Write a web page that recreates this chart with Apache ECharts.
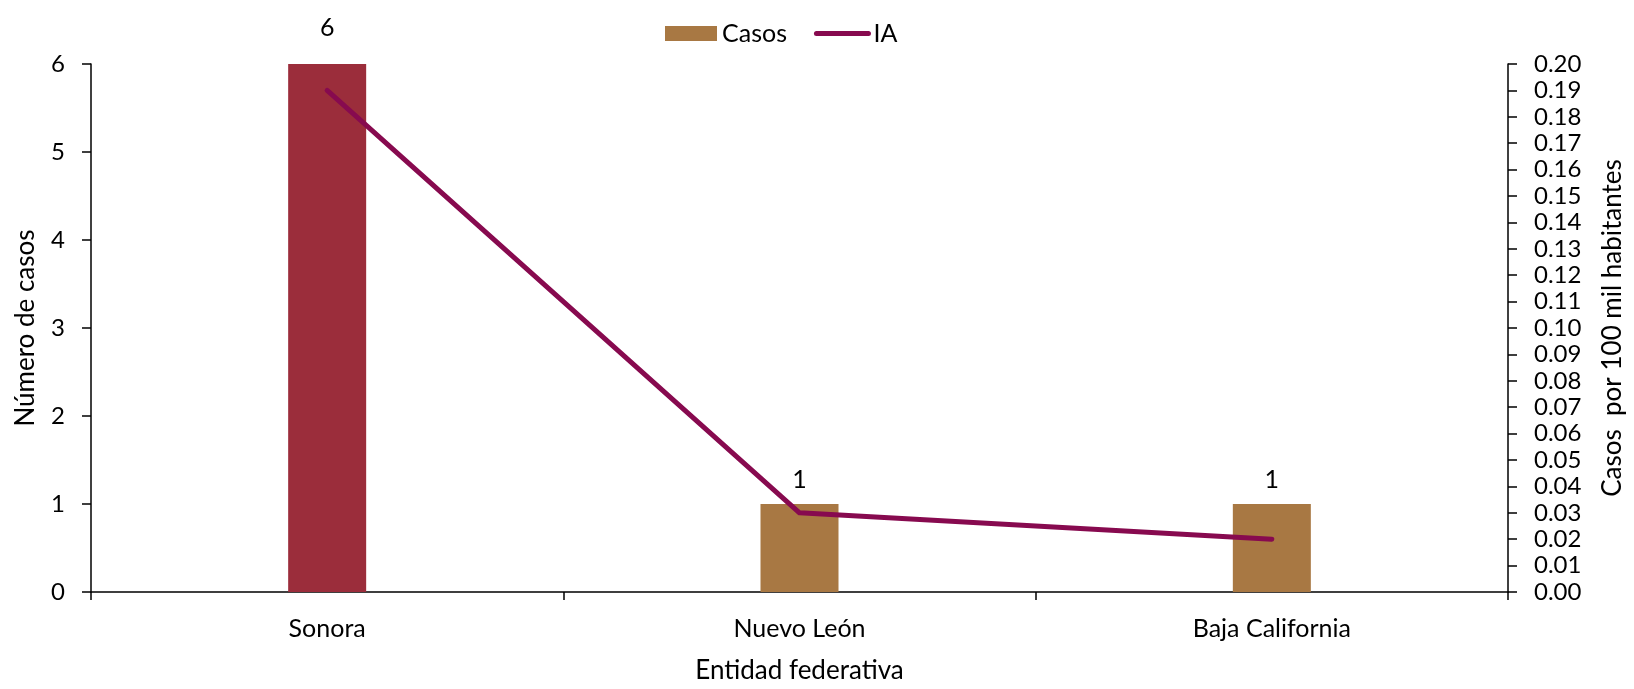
<!DOCTYPE html>
<html>
<head>
<meta charset="utf-8">
<script src="https://cdn.jsdelivr.net/npm/echarts@6/dist/echarts.min.js"></script>
<style>html,body{margin:0;padding:0;background:#fff;}#c{width:1634px;height:689px;}</style>
</head>
<body>
<div id="c"></div>
<script>
var categories = ['Sonora', 'Nuevo León', 'Baja California'];
var casos = [6, 1, 1];
var ia = [0.19, 0.03, 0.02];
var barColors = ['#9B2D3B', '#A87843', '#A87843'];
var labelDistances = [24, 12, 12];

var chart = echarts.init(document.getElementById('c'));
var FONT = 'Lato';
chart.setOption({
  animation: false,
  textStyle: { fontFamily: FONT },
  legend: {
    top: 16, left: 660,
    itemWidth: 52, itemHeight: 15, itemGap: 27,
    textStyle: { fontSize: 25, color: '#000', fontFamily: FONT },
    data: [
      { name: 'Casos', icon: 'rect', itemStyle: { color: '#A87843' } },
      { name: 'IA', itemStyle: { opacity: 0 },
        lineStyle: { width: 5, color: '#870A4F', cap: 'round', opacity: 1 } }
    ]
  },
  grid: { left: 91, right: 122, top: 64, bottom: 94, containLabel: false },
  xAxis: {
    type: 'category', data: categories,
    name: 'Entidad federativa', nameLocation: 'middle', nameGap: 66,
    nameTextStyle: { fontSize: 26, color: '#000', fontFamily: FONT },
    axisLine: { lineStyle: { color: '#000', width: 1.5 } },
    axisTick: { show: true, alignWithLabel: false, length: 8, lineStyle: { color: '#000', width: 1.5 } },
    axisLabel: { fontSize: 25, color: '#000', margin: 24, fontFamily: FONT }
  },
  yAxis: [
    {
      type: 'value', min: 0, max: 6, interval: 1,
      name: 'Número de casos', nameLocation: 'middle', nameGap: 52, nameRotate: 90,
      nameTextStyle: { fontSize: 26, color: '#000', fontFamily: FONT },
      axisLine: { show: true, lineStyle: { color: '#000', width: 1.5 } },
      axisTick: { show: true, length: 9, lineStyle: { color: '#000', width: 1.5 } },
      axisLabel: { fontSize: 24, color: '#000', margin: 26, fontFamily: FONT },
      splitLine: { show: false }
    },
    {
      type: 'value', min: 0, max: 0.2, interval: 0.01, position: 'right',
      name: 'Casos  por 100 mil habitantes', nameLocation: 'middle', nameGap: 92, nameRotate: 90,
      nameTextStyle: { fontSize: 26, color: '#000', fontFamily: FONT },
      axisLine: { show: true, lineStyle: { color: '#000', width: 1.5 } },
      axisTick: { show: true, length: 9, lineStyle: { color: '#000', width: 1.5 } },
      axisLabel: { fontSize: 24, color: '#000', margin: 26, fontFamily: FONT,
        formatter: function (v) { return v.toFixed(2); } },
      splitLine: { show: false }
    }
  ],
  series: [
    {
      name: 'Casos', type: 'bar', yAxisIndex: 0, barWidth: 78,
      data: casos.map(function (v, i) {
        return { value: v, itemStyle: { color: barColors[i] }, label: { distance: labelDistances[i] } };
      }),
      itemStyle: { color: '#A87843' },
      label: { show: true, position: 'top', fontSize: 25, color: '#000', fontFamily: FONT }
    },
    {
      name: 'IA', type: 'line', yAxisIndex: 1, data: ia,
      showSymbol: false, symbol: 'none',
      lineStyle: { color: '#870A4F', width: 5, cap: 'round', join: 'round' },
      itemStyle: { color: '#870A4F' }
    }
  ]
});
</script>
</body>
</html>
